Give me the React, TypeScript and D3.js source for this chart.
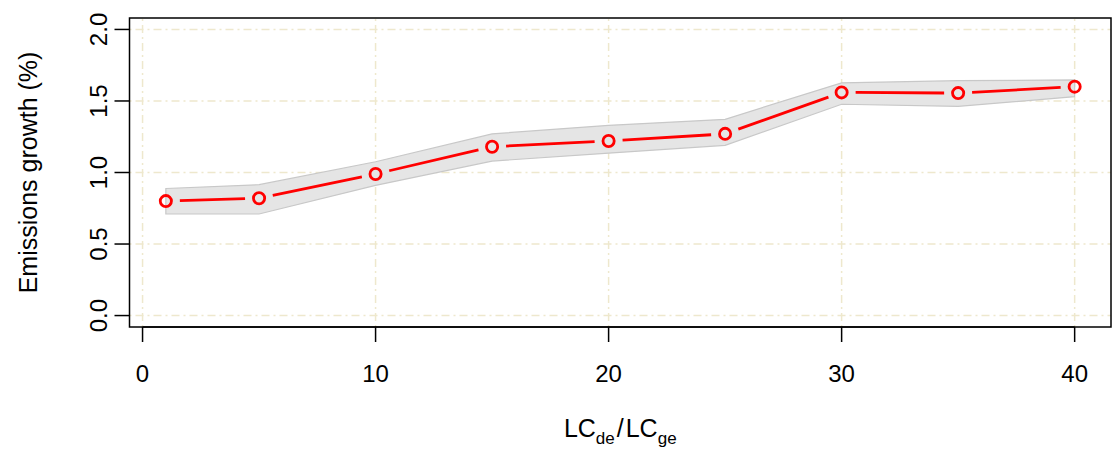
import React from 'react'
import * as d3 from 'd3'

// ratio LC_de / LC_ge
const ratios = [1, 5, 10, 15, 20, 25, 30, 35, 40]
// emissions growth (%) and its band
const growth = [0.8, 0.82, 0.99, 1.18, 1.22, 1.27, 1.56, 1.555, 1.6]
const growthLow = [0.71, 0.71, 0.91, 1.08, 1.135, 1.19, 1.477, 1.462, 1.53]
const growthHigh = [0.888, 0.915, 1.075, 1.27, 1.33, 1.372, 1.627, 1.642, 1.647]

const xTicks = [0, 10, 20, 30, 40]
const yTicks = [0, 0.5, 1, 1.5, 2]

const W = 1112
const H = 450
const FONT = 'Liberation Sans, Arial, Helvetica, sans-serif'
const GRID = '#EEE8CD'

export default function App() {
  const x = d3.scaleLinear().domain([-0.56, 41.56]).range([129.5, 1111])
  const y = d3.scaleLinear().domain([-0.08, 2.08]).range([327, 18])

  const pts = ratios.map((r, i) => ({ r, v: growth[i], lo: growthLow[i], hi: growthHigh[i] }))

  const band = d3.area<typeof pts[0]>()
    .x(d => x(d.r))
    .y0(d => y(d.lo))
    .y1(d => y(d.hi))

  // type="b" style: segments stop short of the points
  const gap = 14
  const segs = d3.pairs(pts).map(([a, b]) => {
    const x1 = x(a.r), y1 = y(a.v), x2 = x(b.r), y2 = y(b.v)
    const len = Math.hypot(x2 - x1, y2 - y1)
    const ux = (x2 - x1) / len, uy = (y2 - y1) / len
    return { x1: x1 + ux * gap, y1: y1 + uy * gap, x2: x2 - ux * gap, y2: y2 - uy * gap }
  })

  const [x0, x1] = x.range()
  const [yb, yt] = y.range()

  return (
    <div style={{ position: 'fixed', left: 0, top: 0 }}>
      <svg width={W} height={H} style={{ display: 'block', background: '#fff', fontFamily: FONT }}>
        {/* grid */}
        <g stroke={GRID} strokeWidth={1.5} strokeDasharray="2 4 8 4">
          {xTicks.map(t => <line key={'gx' + t} x1={x(t)} x2={x(t)} y1={yb} y2={yt} />)}
          {yTicks.map(t => <line key={'gy' + t} x1={x0} x2={x1} y1={y(t)} y2={y(t)} />)}
        </g>

        {/* band */}
        <path d={band(pts) || ''} fill="#E5E5E5" stroke="#C8C8C8" strokeWidth={1.2} />

        {/* line + points */}
        <g stroke="#FF0000" strokeWidth={2.8} strokeLinecap="butt">
          {segs.map((s, i) => <line key={i} {...s} />)}
        </g>
        {pts.map((p, i) => (
          <circle key={i} cx={x(p.r)} cy={y(p.v)} r={5.6} fill="none" stroke="#FF0000" strokeWidth={2.8} />
        ))}

        {/* box */}
        <rect x={x0} y={yt} width={x1 - x0} height={yb - yt} fill="none" stroke="#000" strokeWidth={1.5} />

        {/* x axis */}
        <g>
          <line x1={x(0)} x2={x(40)} y1={yb} y2={yb} stroke="#000" strokeWidth={1.5} />
          {xTicks.map(t => (
            <g key={t}>
              <line x1={x(t)} x2={x(t)} y1={yb} y2={yb + 15} stroke="#000" strokeWidth={1.5} />
              <text x={x(t)} y={382} textAnchor="middle" fontSize={24} fill="#000">{t}</text>
            </g>
          ))}
        </g>

        {/* y axis */}
        <g>
          {yTicks.map(t => (
            <g key={t}>
              <line x1={x0 - 15} x2={x0} y1={y(t)} y2={y(t)} stroke="#000" strokeWidth={1.5} />
              <text transform={`translate(107,${y(t)}) rotate(-90)`} textAnchor="middle" fontSize={24} fill="#000">
                {d3.format('.1f')(t)}
              </text>
            </g>
          ))}
        </g>

        {/* axis titles */}
        <text transform={`translate(37,${(yb + yt) / 2}) rotate(-90)`} textAnchor="middle" fontSize={25} fill="#000">
          Emissions growth (%)
        </text>
        <text x={(x0 + x1) / 2} y={437} textAnchor="middle" fontSize={25} fill="#000">
          <tspan>LC</tspan>
          <tspan fontSize={17} dy={7}>de</tspan>
          <tspan dy={-7} dx={2}>/</tspan>
          <tspan dx={2}>LC</tspan>
          <tspan fontSize={17} dy={7}>ge</tspan>
        </text>
      </svg>
    </div>
  )
}
